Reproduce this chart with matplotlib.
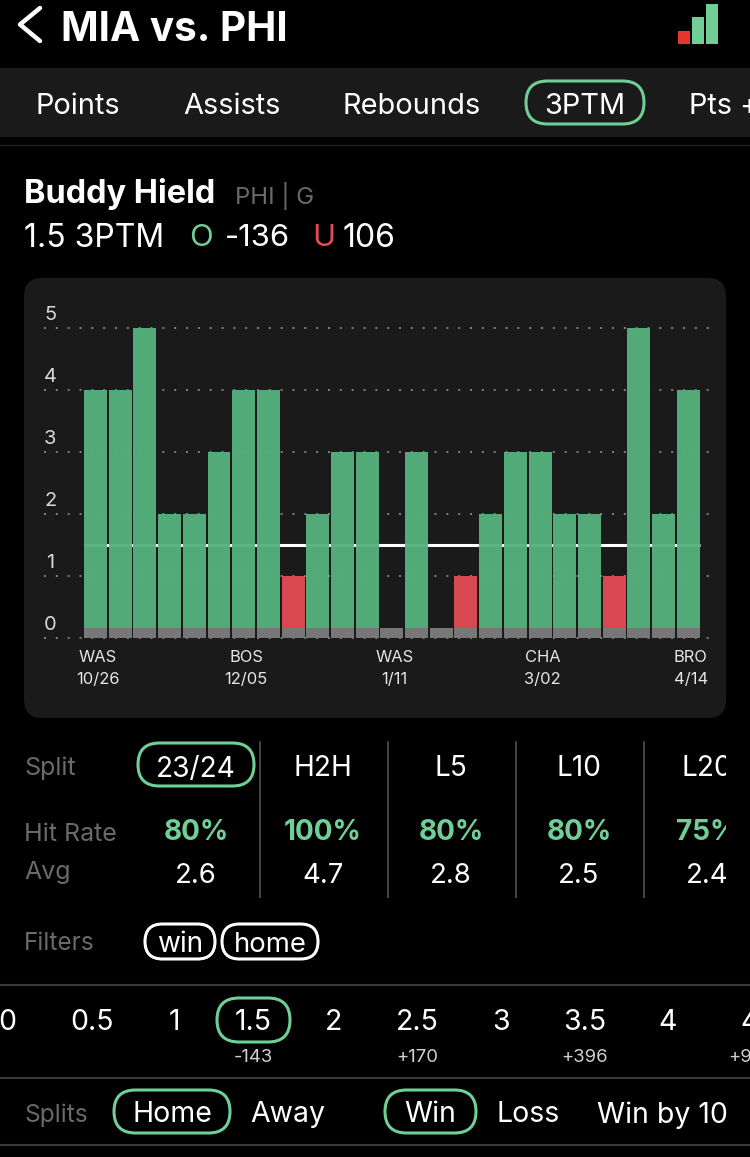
import matplotlib
matplotlib.use('Agg')
import matplotlib.pyplot as plt
from matplotlib.patches import FancyBboxPatch, Rectangle
from matplotlib.transforms import Bbox, TransformedBbox, ScaledTranslation

plt.rcParams['font.family'] = ['Inter', 'DejaVu Sans']

# chart data
threes = [4, 4, 5, 2, 2, 3, 4, 4, 1, 2, 3, 3, 0, 3, 0, 1, 2, 3, 3, 2, 2, 1, 5, 2, 4]
game_idx = list(range(len(threes)))
prop_line = 1.5
base_band = 0.16
tick_idx = [0, 6, 12, 18, 24]
tick_labels = ['WAS\n10/26', 'BOS\n12/05', 'WAS\n1/11', 'CHA\n3/02', 'BRO\n4/14']
y_ticks = [0, 1, 2, 3, 4, 5]

# page text
tabs = ['Points', 'Assists', 'Rebounds', '3PTM']
split_names = ['H2H', 'L5', 'L10', 'L20']
hit_rates = ['80%', '100%', '80%', '80%', '75%']
averages = ['2.6', '4.7', '2.8', '2.5', '2.4']
alt_lines = ['0', '0.5', '1', '1.5', '2', '2.5', '3', '3.5', '4', '4.5']
alt_odds = ['-143', '+170', '+396', '+900']

# layout in pixels
tab_x = [78, 232, 412, 585]
split_x = [196, 323, 451, 579, 707]
sep_x = [260, 388, 516, 644]
alt_x = [7, 92, 174, 253, 334, 417, 501, 585, 668, 762]
odds_x = [253, 417, 585, 752]

GREEN = '#6fcf97'
BAR_GREEN = '#55b17d'
RED = '#e04b54'
CARD = '#1a1a1a'
GREY = '#6a6a6a'
W, H = 750, 1157

fig = plt.figure(figsize=(7.5, 11.57), dpi=100, facecolor='black')
ui = fig.add_axes([0, 0, 1, 1])
ui.set_xlim(0, W)
ui.set_ylim(H, 0)
ui.axis('off')


def px(size):
    return size * 0.72


def label(x, y, s, size=29, color='white', ha='center', weight='normal', clip=None):
    t = ui.text(x, y, s, fontsize=px(size), color=color, ha=ha, va='center_baseline', fontweight=weight)
    if clip is not None:
        t.set_clip_on(True)
        t.set_clip_box(TransformedBbox(Bbox([[0, 0], [clip, H]]), ui.transData))
    return t


def pill(x0, x1, y0, y1, color=GREEN):
    r = (y1 - y0) / 2
    ui.add_patch(FancyBboxPatch((x0 + r, y0 + r), x1 - x0 - 2 * r, 0,
                                boxstyle=f'round,pad={r},rounding_size={r}',
                                fc='none', ec=color, lw=2.2))


# header
ui.plot([40, 20, 40], [8, 24.5, 41], color='white', lw=3.2, solid_capstyle='round', solid_joinstyle='round')
label(61, 26, 'MIA vs. PHI', size=40.5, ha='left', weight='bold')
ui.add_patch(Rectangle((678, 31), 12, 13, fc='#e8352c'))
ui.add_patch(Rectangle((692, 17), 12, 27, fc=GREEN))
ui.add_patch(Rectangle((706, 4), 12, 40, fc=GREEN))

# tab strip
ui.add_patch(Rectangle((0, 68), W, 69, fc=CARD))
ui.plot([0, W], [145, 145], color='#222222', lw=1)
for x, s in zip(tab_x, tabs):
    label(x, 103, s)
label(689, 103, 'Pts +', ha='left')
pill(526, 644, 81, 124)

# player line
label(24, 191, 'Buddy Hield', size=32.5, ha='left', weight='bold')
label(235, 193, 'PHI | G', size=24, color=GREY, ha='left')
label(24, 235, '1.5 3PTM', size=32, ha='left')
label(189, 235, 'O', size=31, color=GREEN, ha='left')
label(225, 235, '-136', size=31, ha='left')
label(312, 235, 'U', size=31, color=RED, ha='left')
label(343, 235, '106', size=32, ha='left')

# chart card
ui.add_patch(FancyBboxPatch((42, 296), 666, 404, boxstyle='round,pad=18,rounding_size=18', fc=CARD, ec='none'))

# bar chart, x runs in game numbers and y in made threes
ax = fig.add_axes([44 / W, 1 - 638 / H, (711 - 44) / W, 310 / H], facecolor='none')
ax.set_xlim(-2.085, 24.92)
ax.set_ylim(0, 5)
for s in ax.spines.values():
    s.set_visible(False)
ax.set_yticks(y_ticks)
ax.set_yticklabels([])
ax.set_xticks(tick_idx)
ax.set_xticklabels(tick_labels, fontsize=px(16.5), color='#e6e6e6', linespacing=1.55)
ax.tick_params(length=0, pad=9)
shift = ScaledTranslation(2.5 / 100, 0, fig.dpi_scale_trans)
for t in ax.get_xticklabels():
    t.set_transform(t.get_transform() + shift)
ax.grid(axis='y', color='#8f8f8f', lw=1.2, linestyle=(0, (1.2, 5.9)), zorder=1, clip_on=False)
ax.set_axisbelow(True)
for yy in y_ticks:
    ax.text(-1.83, yy + 0.21, str(yy), fontsize=px(20), color='#d8d8d8', ha='center', va='center')

ax.plot([-0.46, 24.46], [prop_line, prop_line], color='white', lw=2.2, solid_capstyle='butt', zorder=2)
bar_colors = [BAR_GREEN if v > prop_line else RED for v in threes]
ax.bar(game_idx, threes, width=0.93, color=bar_colors, alpha=0.96, zorder=3)
ax.bar(game_idx, [base_band] * len(threes), width=0.93, color='#777777', zorder=4)

# split table
label(24, 766, 'Split', size=25, color=GREY, ha='left')
label(24, 832, 'Hit Rate', size=25, color=GREY, ha='left')
label(24, 870, 'Avg', size=25, color=GREY, ha='left')
label(split_x[0], 766, '23/24', size=28)
for x, s in zip(split_x[1:], split_names):
    label(x, 766, s, size=28, clip=726)
pill(138, 254, 743, 786)
for x in sep_x:
    ui.plot([x, x], [742, 897], color='#444444', lw=1.4)
for x, hr, avg in zip(split_x, hit_rates, averages):
    label(x, 829, hr, size=28, color=GREEN, weight='bold', clip=726)
    label(x, 873, avg, size=27.5, clip=726)

# filters
label(24, 941, 'Filters', size=24.5, color=GREY, ha='left')
label(180, 942, 'win', size=28)
label(270, 942, 'home', size=27.5)
pill(145, 215, 924, 959, color='white')
pill(222, 318, 924, 959, color='white')

# alt lines
for y in [985, 1078, 1145]:
    ui.plot([0, W], [y, y], color='#3a3a3a', lw=1.5)
for x, s in zip(alt_x, alt_lines):
    label(x, 1020, s, size=28.5)
for x, s in zip(odds_x, alt_odds):
    label(x, 1055, s, size=18.5, color='#d0d0d0')
pill(217, 290, 998, 1042)

# bottom splits
label(24, 1113, 'Splits', size=24.5, color=GREY, ha='left')
label(172, 1112, 'Home', size=28.5)
label(288, 1112, 'Away', size=28.5)
label(430, 1112, 'Win', size=28.5)
label(528, 1112, 'Loss', size=28.5)
label(662, 1112, 'Win by 10', size=28.5)
pill(114, 230, 1090, 1133)
pill(385, 476, 1090, 1133)

fig.savefig('out.png', dpi=100, facecolor='black')
